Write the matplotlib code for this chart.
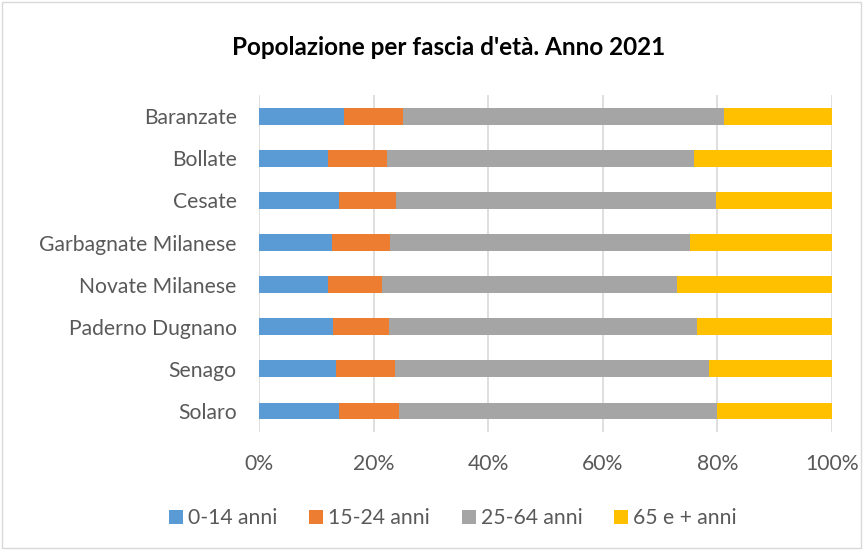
import numpy as np
import matplotlib.pyplot as plt
from matplotlib.ticker import PercentFormatter

comuni = ["Baranzate", "Bollate", "Cesate", "Garbagnate Milanese",
          "Novate Milanese", "Paderno Dugnano", "Senago", "Solaro"]
fasce = ["0-14 anni", "15-24 anni", "25-64 anni", "65 e + anni"]

# quote percentuali
eta_0_14 = [14.9, 12.1, 13.9, 12.7, 12.0, 13.0, 13.4, 14.0]
eta_15_24 = [10.2, 10.3, 10.1, 10.1, 9.5, 9.7, 10.4, 10.5]
eta_25_64 = [56.0, 53.6, 55.8, 52.4, 51.5, 53.7, 54.7, 55.5]
eta_65_piu = [18.9, 24.0, 20.2, 24.8, 27.0, 23.6, 21.5, 20.0]

colori = ["#5b9bd5", "#ed7d31", "#a5a5a5", "#ffc000"]

plt.rcParams['font.family'] = ['Lato', 'DejaVu Sans']

fig = plt.figure(figsize=(8.63, 5.5), dpi=100)
ax = fig.add_axes([0.300, 0.2145, 0.664, 0.6125])

serie = [eta_0_14, eta_15_24, eta_25_64, eta_65_piu]
y = np.arange(len(comuni))
left = np.zeros(len(comuni))
for valori, nome, col in zip(serie, fasce, colori):
    ax.barh(y, valori, left=left, height=0.4, color=col, label=nome, zorder=3)
    left += np.array(valori)

ax.set_ylim(len(comuni) - 0.5, -0.5)
ax.set_xlim(0, 100)
ax.set_xticks(range(0, 101, 20))
ax.xaxis.set_major_formatter(PercentFormatter(decimals=0))
ax.set_yticks(y)
ax.set_yticklabels(comuni)
ax.tick_params(length=0, labelsize=15.2, colors="#595959")
ax.tick_params(axis="x", pad=16)
ax.tick_params(axis="y", pad=16)
ax.grid(axis="x", color="#d9d9d9", linewidth=1.2, zorder=0)
for s in ax.spines.values():
    s.set_visible(False)

fig.text(0.52, 0.9145, "Popolazione per fascia d'età. Anno 2021", ha="center",
         va="center", fontsize=17.5, fontweight="bold", color="#000000")

leg = fig.legend(loc="center", bbox_to_anchor=(0.525, 0.058), ncol=4, frameon=False,
                 fontsize=15.2, handlelength=0.65, handleheight=0.65, handletextpad=0.25,
                 columnspacing=1.5)
for t in leg.get_texts():
    t.set_color("#595959")

# bordo dell'area grafico
fig.patches.append(plt.Rectangle((0.002, 0.003), 0.996, 0.994, transform=fig.transFigure,
                                 fill=False, edgecolor="#d9d9d9", linewidth=1))

fig.savefig("out.png", dpi=100)
